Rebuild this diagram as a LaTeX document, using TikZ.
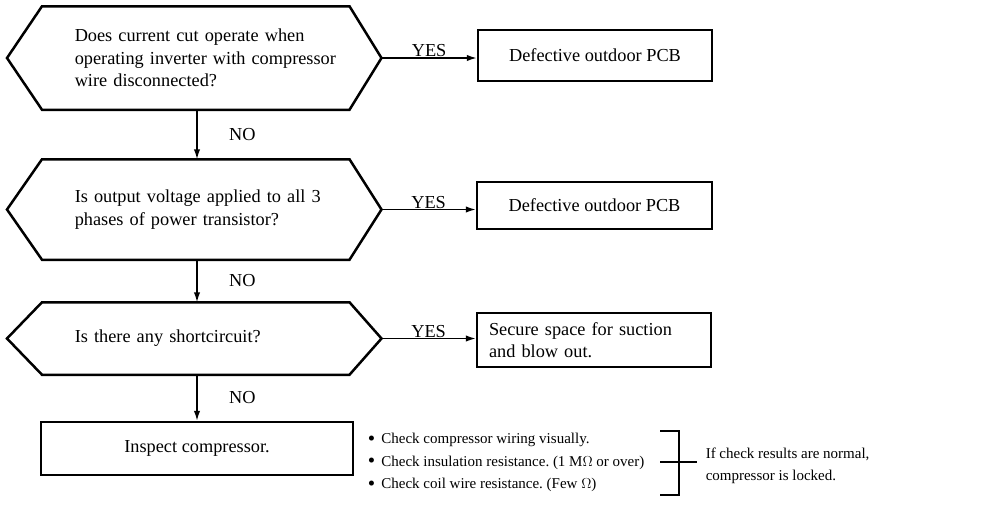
\documentclass[tikz,border=0pt]{standalone}
\usepackage{fontspec}
\setmainfont{Liberation Serif}
\usetikzlibrary{arrows.meta,positioning}
\frenchspacing
\newcommand{\bul}{\raisebox{-1.8pt}{\scalebox{1.4}{\textbullet}}\ \,}

\begin{document}
\begin{tikzpicture}[x=1pt,y=-1pt,line width=1.5,
	every node/.style={font=\fontsize{18.3}{22.5}\selectfont},
	ques/.style={text width=274,inner xsep=0,inner ysep=0,align=left,anchor=west},
	resbox/.style={draw,line width=2.5,inner sep=0,align=center},
	note/.style={anchor=west,align=left,inner sep=0,font=\fontsize{15}{22.5}\selectfont},
	arr/.style={-{Latex[length=10,width=6.5]}}]
	\useasboundingbox (0,0) rectangle (1004,507);
	\node[ques,minimum height=102] (q1) at (74,58) {Does current cut operate when\\operating inverter with compressor\\wire disconnected?};
	\node[ques,minimum height=99] (q2) at (74,209.5) {Is output voltage applied to all 3\\phases of power transistor?};
	\node[ques,minimum height=71] (q3) at (74,338.5) {Is there any shortcircuit?};
	\foreach \q/\t in {q1/t1,q2/t2,q3/t3}
		\draw[line width=2.5] ([xshift=-32]\q.north west) -- (\q.north east) -- ([xshift=32]\q.east) coordinate (\t) -- (\q.south east) -- ([xshift=-32]\q.south west) -- ([xshift=-67]\q.west) -- cycle;
	\node[resbox,minimum width=234,minimum height=51] (b1) at (595,55.5) {Defective outdoor PCB};
	\node[resbox,minimum width=235,minimum height=47] (b2) at (594.5,205.5) {Defective outdoor PCB};
	\node[resbox,text width=210,inner xsep=12,minimum height=54,align=left] (b3) at (594,340) {Secure space for suction\\and blow out.};
	\node[resbox,minimum width=312,minimum height=53] (b4) at (197,448.5) {Inspect compressor.};
	\draw[arr] (t1) -- (t1 -| b1.west) node[midway,above=3]{YES};
	\draw[arr] (t2) -- (t2 -| b2.west) node[midway,above=3]{YES};
	\draw[arr] (t3) -- (t3 -| b3.west) node[midway,above=3]{YES};
	\draw[arr] (q1.south -| b4.north) -- (q2.north -| b4.north) node[midway,right=28]{NO};
	\draw[arr] (q2.south -| b4.north) -- (q3.north -| b4.north) node[midway,right=28]{NO};
	\draw[arr] (q3.south -| b4.north) -- (b4.north) node[midway,right=28]{NO};
	\node[note] (chk) at (367,462.5) {\bul Check compressor wiring visually.\\\bul Check insulation resistance. (1 M$\Omega$ or over)\\\bul Check coil wire resistance. (Few $\Omega$)};
	\node[note] (con) at (705,466) {If check results are normal,\\compressor is locked.};
	\coordinate (k1) at (660,431);
	\coordinate (k2) at (660,495);
	\coordinate (k3) at (660,462);
	\draw[line width=1.2] (k1) -- ++(19,0) |- (k2);
	\draw[line width=1.2] (k3) -- ([xshift=-8]con.west |- k3);
\end{tikzpicture}
\end{document}
